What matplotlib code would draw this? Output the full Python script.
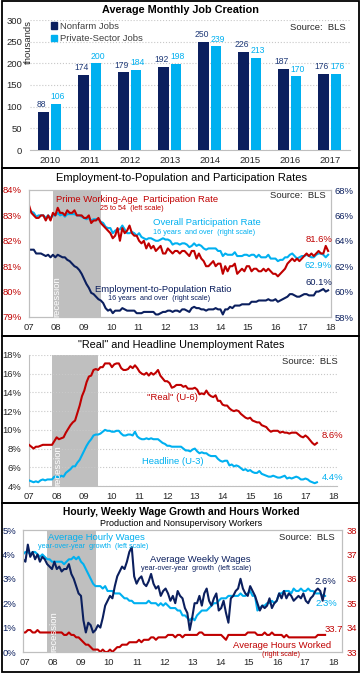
import numpy as np
import matplotlib
matplotlib.use('Agg')
import matplotlib.pyplot as plt
from matplotlib.patches import Rectangle, Patch

plt.rcParams['font.family'] = ['Liberation Sans', 'DejaVu Sans']

# ---- datos ----
years = ['2010', '2011', '2012', '2013', '2014', '2015', '2016', '2017']
nonfarm = [88, 174, 179, 192, 250, 226, 187, 176]
private = [106, 200, 184, 198, 239, 213, 170, 176]

yr_labels = ['07', '08', '09', '10', '11', '12', '13', '14', '15', '16', '17', '18']

# mensual, ene-2007 a jun-2017
prime_lfpr = [83.4, 83.1, 83.0, 82.9, 82.9, 83.0, 83.0, 82.8, 83.0, 82.8, 83.1, 83.0,
              83.3, 83.1, 83.1, 83.0, 83.2, 83.1, 83.1, 83.2, 83.0, 83.0, 83.0, 82.9,
              82.9, 83.0, 82.7, 82.8, 82.8, 82.9, 82.7, 82.6, 82.5, 82.4, 82.3, 82.1,
              82.2, 82.5, 82.0, 82.5, 82.3, 82.4, 82.6, 82.3, 82.2, 82.2, 82.0, 81.9,
              82.0, 81.7, 81.9, 81.7, 81.8, 81.6, 81.7, 81.8, 81.5, 81.5, 81.7, 81.6,
              81.5, 81.6, 81.6, 81.5, 81.6, 81.6, 81.5, 81.4, 81.6, 81.6, 81.3, 81.5,
              81.3, 81.2, 81.0, 81.0, 81.1, 81.2, 81.0, 81.1, 81.1, 80.7, 81.0, 80.8,
              81.0, 81.0, 81.1, 80.7, 80.8, 80.9, 80.8, 81.0, 81.0, 80.8, 80.9, 80.9,
              80.8, 80.8, 80.9, 80.8, 80.9, 80.8, 80.7, 80.7, 80.6, 80.7, 80.8, 80.9,
              81.1, 81.2, 81.3, 81.2, 81.3, 81.2, 81.3, 81.4, 81.5, 81.4, 81.5, 81.4,
              81.5, 81.6, 81.5, 81.5, 81.8, 81.6]
lfpr = [66.4, 66.3, 66.2, 65.9, 66.0, 66.0, 66.0, 65.8, 66.0, 65.8, 66.0, 66.0,
        66.2, 66.0, 66.1, 65.9, 66.1, 66.1, 66.1, 66.1, 66.0, 66.0, 65.9, 65.8,
        65.7, 65.8, 65.6, 65.7, 65.7, 65.7, 65.5, 65.4, 65.1, 65.0, 65.0, 64.6,
        64.8, 64.9, 64.9, 65.2, 64.9, 64.6, 64.6, 64.7, 64.6, 64.4, 64.6, 64.3,
        64.2, 64.1, 64.2, 64.2, 64.1, 64.0, 64.0, 64.1, 64.2, 64.1, 64.1, 64.0,
        63.7, 63.8, 63.8, 63.7, 63.8, 63.8, 63.7, 63.5, 63.6, 63.8, 63.6, 63.7,
        63.6, 63.4, 63.3, 63.4, 63.4, 63.4, 63.4, 63.2, 63.2, 62.8, 63.0, 62.9,
        62.9, 62.9, 63.1, 62.8, 62.8, 62.8, 62.9, 62.9, 62.8, 62.9, 62.9, 62.7,
        62.9, 62.7, 62.7, 62.7, 62.9, 62.6, 62.6, 62.6, 62.4, 62.5, 62.5, 62.7,
        62.7, 62.9, 63.0, 62.8, 62.6, 62.7, 62.8, 62.8, 62.9, 62.8, 62.7, 62.7,
        62.9, 63.0, 63.0, 62.9, 62.7, 62.9]
epop = [63.3, 63.3, 63.3, 63.0, 63.0, 63.0, 62.9, 62.8, 62.9, 62.7, 62.9, 62.7,
        62.9, 62.8, 62.7, 62.7, 62.5, 62.4, 62.2, 62.0, 61.9, 61.7, 61.4, 61.0,
        60.6, 60.3, 59.9, 59.8, 59.6, 59.4, 59.3, 59.1, 58.7, 58.5, 58.6, 58.3,
        58.5, 58.5, 58.5, 58.7, 58.6, 58.5, 58.5, 58.5, 58.5, 58.3, 58.3, 58.3,
        58.4, 58.4, 58.4, 58.4, 58.4, 58.2, 58.2, 58.3, 58.4, 58.4, 58.5, 58.5,
        58.4, 58.5, 58.5, 58.4, 58.6, 58.6, 58.5, 58.4, 58.7, 58.8, 58.7, 58.7,
        58.6, 58.6, 58.5, 58.6, 58.6, 58.6, 58.7, 58.6, 58.6, 58.2, 58.6, 58.6,
        58.8, 58.7, 58.9, 58.9, 58.9, 59.0, 59.0, 59.0, 59.0, 59.2, 59.2, 59.2,
        59.3, 59.3, 59.3, 59.3, 59.4, 59.3, 59.3, 59.4, 59.2, 59.3, 59.4, 59.5,
        59.6, 59.8, 59.8, 59.7, 59.6, 59.6, 59.7, 59.8, 59.8, 59.7, 59.7, 59.7,
        60.0, 60.0, 60.1, 60.2, 60.0, 60.1]
u6 = [8.4, 8.2, 8.0, 8.2, 8.2, 8.3, 8.4, 8.4, 8.4, 8.4, 8.4, 8.8,
      9.2, 9.0, 9.1, 9.2, 9.7, 10.1, 10.5, 10.8, 11.0, 11.8, 12.6, 13.6,
      14.2, 15.1, 15.7, 15.8, 16.4, 16.5, 16.4, 16.7, 16.7, 17.1, 17.1, 17.1,
      16.7, 17.0, 17.1, 17.1, 16.6, 16.4, 16.4, 16.5, 16.8, 16.6, 16.9, 16.6,
      16.2, 16.0, 15.9, 16.1, 15.8, 16.1, 15.9, 16.1, 16.4, 15.8, 15.5, 15.2,
      15.2, 15.0, 14.5, 14.6, 14.8, 14.8, 14.8, 14.6, 14.7, 14.4, 14.4, 14.4,
      14.5, 14.3, 13.8, 13.9, 13.8, 14.2, 13.8, 13.6, 13.5, 13.7, 13.1, 13.1,
      12.7, 12.6, 12.6, 12.3, 12.1, 12.0, 12.1, 12.0, 11.7, 11.5, 11.3, 11.2,
      11.3, 11.0, 10.9, 10.8, 10.8, 10.5, 10.4, 10.3, 10.0, 9.8, 9.9, 9.9,
      9.9, 9.7, 9.8, 9.7, 9.7, 9.6, 9.7, 9.7, 9.7, 9.5, 9.3, 9.2,
      9.4, 9.2, 8.9, 8.6, 8.4, 8.6]
u3 = [4.6, 4.5, 4.4, 4.5, 4.4, 4.6, 4.7, 4.6, 4.7, 4.7, 4.7, 5.0,
      5.0, 4.9, 5.1, 5.0, 5.4, 5.6, 5.8, 6.1, 6.1, 6.5, 6.8, 7.3,
      7.8, 8.3, 8.7, 9.0, 9.4, 9.5, 9.5, 9.6, 9.8, 10.0, 9.9, 9.9,
      9.8, 9.8, 9.9, 9.9, 9.6, 9.4, 9.4, 9.5, 9.5, 9.4, 9.8, 9.3,
      9.1, 9.0, 9.0, 9.1, 9.0, 9.1, 9.0, 9.0, 9.0, 8.8, 8.6, 8.5,
      8.3, 8.3, 8.2, 8.2, 8.2, 8.2, 8.2, 8.0, 7.8, 7.8, 7.7, 7.9,
      8.0, 7.7, 7.5, 7.6, 7.5, 7.5, 7.3, 7.2, 7.2, 7.2, 6.9, 6.7,
      6.6, 6.7, 6.7, 6.2, 6.3, 6.1, 6.2, 6.1, 5.9, 5.7, 5.8, 5.6,
      5.7, 5.5, 5.4, 5.4, 5.6, 5.3, 5.2, 5.1, 5.0, 5.0, 5.1, 5.0,
      4.9, 4.9, 5.0, 5.1, 4.8, 4.9, 4.8, 4.9, 5.0, 4.9, 4.7, 4.7,
      4.8, 4.7, 4.5, 4.4, 4.3, 4.4]
hourly = [4.0, 4.1, 4.1, 4.0, 4.1, 4.1, 4.0, 3.9, 4.0, 3.9, 3.8, 3.8,
          3.7, 3.7, 3.7, 3.7, 3.7, 3.6, 3.7, 3.8, 3.8, 3.9, 3.8, 3.9,
          3.7, 3.6, 3.4, 3.2, 3.0, 2.8, 2.7, 2.7, 2.7, 2.6, 2.7, 2.5,
          2.5, 2.5, 2.4, 2.4, 2.4, 2.3, 2.2, 2.2, 2.1, 2.1, 2.0, 2.0,
          2.0, 2.0, 2.0, 2.0, 2.1, 2.0, 2.0, 2.0, 1.9, 2.0, 1.9, 2.0,
          1.9, 1.8, 1.8, 1.8, 1.7, 1.7, 1.5, 1.5, 1.4, 1.3, 1.4, 1.3,
          1.5, 1.6, 1.7, 1.7, 1.7, 1.8, 1.9, 2.0, 2.0, 2.1, 2.2, 2.2,
          2.2, 2.3, 2.3, 2.3, 2.3, 2.3, 2.4, 2.3, 2.3, 2.4, 2.5, 2.3,
          2.3, 1.7, 1.8, 1.9, 1.9, 2.0, 2.0, 2.1, 2.0, 2.1, 2.4, 2.4,
          2.5, 2.5, 2.5, 2.4, 2.6, 2.5, 2.5, 2.6, 2.5, 2.5, 2.6, 2.5,
          2.5, 2.4, 2.4, 2.4, 2.3, 2.3]
weekly = [3.8, 3.7, 4.4, 3.9, 4.1, 3.8, 4.0, 3.7, 3.9, 3.8, 3.6, 3.5,
          3.4, 3.7, 3.4, 3.5, 3.3, 3.4, 3.4, 3.6, 3.2, 3.0, 2.7, 2.4,
          2.3, 1.3, 0.8, 1.2, 1.1, 0.8, 0.9, 1.1, 1.0, 1.4, 1.9, 2.1,
          2.3, 2.2, 2.7, 3.1, 3.3, 3.5, 3.4, 3.7, 4.1, 4.3, 3.1, 2.8,
          3.0, 3.1, 2.8, 2.7, 2.9, 3.2, 2.8, 2.6, 2.7, 2.3, 2.5, 2.6,
          2.4, 2.1, 2.3, 2.0, 2.5, 2.3, 2.2, 1.8, 1.6, 0.9, 1.4, 2.0,
          2.0, 2.3, 1.9, 2.4, 2.6, 2.1, 1.9, 2.2, 2.4, 1.7, 1.8, 2.1,
          1.6, 1.2, 2.2, 2.3, 2.5, 2.6, 3.0, 2.6, 2.4, 2.3, 2.7, 2.5,
          2.3, 2.0, 1.7, 1.9, 1.8, 1.9, 2.2, 1.8, 2.0, 2.1, 2.4, 2.2,
          2.5, 2.2, 2.4, 2.3, 2.1, 2.2, 2.3, 2.2, 2.4, 2.1, 2.0, 2.2,
          2.3, 2.5, 2.6, 2.5, 2.1, 2.6]
hours = [33.8, 33.8, 33.9, 33.9, 33.8, 33.8, 33.9, 33.8, 33.8, 33.8, 33.8, 33.8,
         33.8, 33.8, 33.8, 33.8, 33.8, 33.7, 33.7, 33.8, 33.7, 33.7, 33.6, 33.6,
         33.5, 33.4, 33.3, 33.3, 33.2, 33.1, 33.1, 33.1, 33.0, 33.1, 33.0, 33.0,
         33.1, 33.0, 33.1, 33.2, 33.2, 33.3, 33.3, 33.3, 33.4, 33.4, 33.4, 33.4,
         33.5, 33.4, 33.5, 33.5, 33.5, 33.6, 33.6, 33.5, 33.6, 33.6, 33.6, 33.6,
         33.7, 33.7, 33.7, 33.6, 33.7, 33.7, 33.6, 33.7, 33.7, 33.7, 33.7, 33.7,
         33.7, 33.8, 33.8, 33.7, 33.7, 33.7, 33.7, 33.7, 33.7, 33.7, 33.7, 33.6,
         33.5, 33.7, 33.7, 33.7, 33.7, 33.7, 33.7, 33.7, 33.7, 33.8, 33.8, 33.8,
         33.8, 33.7, 33.7, 33.7, 33.8, 33.7, 33.7, 33.8, 33.7, 33.7, 33.7, 33.7,
         33.6, 33.7, 33.6, 33.6, 33.6, 33.6, 33.6, 33.6, 33.6, 33.6, 33.6, 33.6,
         33.6, 33.6, 33.7, 33.7, 33.7, 33.7]

# recesion: dic-2007 a jun-2009 (indice de mes)
rec_start, rec_end = 10, 30

# ---- estilo ----
W, H = 361, 673
NAVY = '#0B1F5E'
BLUE = '#00B0F0'
RED = '#C00000'
SPINE = '#BFBFBF'
SHADE = '#BFBFBF'
TXT = '#262626'

fig = plt.figure(figsize=(W / 100, H / 100), dpi=100)


def box(x0, y0, x1, y1):
    return [x0 / W, 1 - y1 / H, (x1 - x0) / W, (y1 - y0) / H]


def put(x, y, s, color=TXT, size=6.8, ha='left', va='center', **kw):
    fig.text(x / W, 1 - y / H, s, color=color, fontsize=size, ha=ha, va=va, **kw)


def frame(y0, y1):
    fig.add_artist(Rectangle((1.5 / W, 1 - y1 / H), 357 / W, (y1 - y0) / H,
                             transform=fig.transFigure, fill=False, ec='black', lw=1.3))


def style(ax, sides=('left', 'right', 'top', 'bottom')):
    for s in ax.spines:
        ax.spines[s].set_visible(s in sides)
        ax.spines[s].set_color(SPINE)
        ax.spines[s].set_linewidth(0.8)
    ax.tick_params(length=0, labelsize=6.8, colors=TXT)


t = np.arange(len(u3))

# ---- Panel 1: barras ----
frame(1, 168)
put(180.5, 10, 'Average Monthly Job Creation', size=7.8, ha='center', weight='bold', color='black')
ax1 = fig.add_axes(box(30, 20, 350, 150))
x = np.arange(len(years))
ax1.bar(x - 0.165, nonfarm, 0.26, color=NAVY, zorder=3)
ax1.bar(x + 0.155, private, 0.26, color=BLUE, zorder=3)
for xi, v in zip(x, nonfarm):
    ax1.annotate(str(v), (xi - 0.165, v), xytext=(-1.2, 2), textcoords='offset points',
                 ha='center', va='bottom', fontsize=6.2, color='#1F3A78')
for xi, v in zip(x, private):
    ax1.annotate(str(v), (xi + 0.155, v), xytext=(1.2, 2), textcoords='offset points',
                 ha='center', va='bottom', fontsize=6.2, color=BLUE)
ax1.set_xlim(-0.5, 7.5)
ax1.set_ylim(0, 300)
ax1.set_yticks(range(0, 301, 50))
ax1.set_xticks(x)
ax1.set_xticklabels(years)
style(ax1, sides=('bottom',))
ax1.tick_params(axis='y', pad=5.5)
ax1.tick_params(axis='x', pad=4)
ax1.yaxis.grid(True, ls=':', color='#C8C8C8', lw=0.8, zorder=0)
ax1.set_axisbelow(True)
put(28, 20, 'thousands', rotation=90, ha='center', va='top', size=6.8)
ax1.legend([Patch(color=NAVY), Patch(color=BLUE)], ['Nonfarm Jobs', 'Private-Sector Jobs'],
           loc='upper left', bbox_to_anchor=(0.04, 1.05), frameon=False, fontsize=6.8,
           handlelength=0.6, handleheight=0.7, handletextpad=0.35, labelspacing=0.35,
           labelcolor='#404040')
put(346, 27, 'Source:  BLS', ha='right')

# ---- Panel 2: participacion ----
frame(168, 336)
put(181, 178, 'Employment-to-Population and Participation Rates', size=8.0, ha='center', color='black')
ax2 = fig.add_axes(box(29, 190, 331, 317))
ax2r = ax2.twinx()
ax2.set_zorder(ax2r.get_zorder() + 1)
ax2.patch.set_visible(False)
ax2r.axvspan(rec_start, rec_end, color=SHADE, lw=0, zorder=0)
ax2r.plot(t, lfpr, color=BLUE, lw=1.5)
ax2r.plot(t, epop, color=NAVY, lw=1.5)
ax2.plot(t, prime_lfpr, color=RED, lw=1.5)
ax2.set_xlim(0, 126.2)
ax2.set_ylim(79, 84)
ax2r.set_ylim(58, 68)
ax2.set_xticks(np.linspace(0, 125.8, 12))
ax2.set_xticklabels(yr_labels)
ax2.set_yticks(range(79, 85))
ax2.set_yticklabels([f'{v}%' for v in range(79, 85)])
ax2r.set_yticks(range(58, 69, 2))
ax2r.set_yticklabels([f'{v}%' for v in range(58, 69, 2)])
style(ax2)
style(ax2r)
ax2.tick_params(axis='y', colors=RED, pad=5.5)
ax2r.tick_params(axis='y', colors=NAVY, pad=2.5)
ax2.tick_params(axis='x', pad=4)
put(57, 297, 'recession', rotation=90, ha='center', color='white')
put(56, 199, 'Prime Working-Age  Participation Rate', color=RED)
put(100, 209, '25 to 54  (left scale)', color=RED, size=5.2)
put(326, 195, 'Source:  BLS', ha='right')
put(153, 223, 'Overall Participation Rate', color=BLUE)
put(153, 232, '16 years  and over  (right scale)', color=BLUE, size=5.2)
put(332, 239, '81.6%', color=RED, ha='right')
put(332, 266, '62.9%', color=BLUE, ha='right')
put(332, 282, '60.1%', color=NAVY, ha='right')
put(95, 289, 'Employment-to-Population Ratio', color=NAVY)
put(108, 298, '16 years  and over  (right scale)', color=NAVY, size=5.2)

# ---- Panel 3: desempleo ----
frame(336, 503)
put(181, 345, '"Real" and Headline Unemployment Rates', size=7.8, ha='center', color='black')
ax3 = fig.add_axes(box(29, 355, 337, 486))
ax3.axvspan(rec_start, rec_end, color=SHADE, lw=0, zorder=0)
ax3.plot(t, u6, color=RED, lw=1.5, zorder=3)
ax3.plot(t, u3, color=BLUE, lw=1.5, zorder=3)
ax3.set_xlim(0, 133.7)
ax3.set_ylim(4, 18)
ax3.set_yticks(range(4, 19, 2))
ax3.set_yticklabels([f'{v}%' for v in range(4, 19, 2)])
ax3.set_xticks(np.arange(0, 133, 12))
ax3.set_xticklabels(yr_labels)
style(ax3, sides=('left', 'bottom'))
ax3.tick_params(axis='y', pad=5.5)
ax3.tick_params(axis='x', pad=4)
ax3.yaxis.grid(True, ls=':', color='#C8C8C8', lw=0.8, zorder=1)
put(58, 466, 'recession', rotation=90, ha='center', color='white')
put(338, 361, 'Source:  BLS', ha='right')
put(147, 397, '"Real" (U-6)', color=RED)
put(142, 461, 'Headline (U-3)', color=BLUE)
put(343, 436, '8.6%', color=RED, ha='right')
put(343, 477, '4.4%', color=BLUE, ha='right')

# ---- Panel 4: salarios y horas ----
frame(503, 672)
put(181, 512, 'Hourly, Weekly Wage Growth and Hours Worked', size=7.4, ha='center',
    weight='bold', color='black')
put(181, 523, 'Production and Nonsupervisory Workers', size=6.5, ha='center', color='black')
ax4 = fig.add_axes(box(23, 530, 342, 652))
ax4r = ax4.twinx()
ax4.axvspan(rec_start, rec_end, color=SHADE, lw=0, zorder=0)
ax4.plot(t, hourly, color=BLUE, lw=1.5, zorder=3)
ax4.plot(t, weekly, color=NAVY, lw=1.5, zorder=3)
ax4r.plot(t, hours, color=RED, lw=1.5)
ax4.set_xlim(0, 132)
ax4.set_ylim(0, 5)
ax4r.set_ylim(33, 38)
ax4.set_yticks(range(0, 6))
ax4.set_yticklabels([f'{v}%' for v in range(0, 6)])
ax4r.set_yticks(range(33, 39))
ax4.set_xticks(np.linspace(0.8, 128.3, 12))
ax4.set_xticklabels(yr_labels)
style(ax4)
style(ax4r)
ax4.tick_params(axis='y', colors=NAVY, pad=5)
ax4r.tick_params(axis='y', colors=RED, pad=3.5)
ax4.tick_params(axis='x', pad=4)
put(54, 632, 'recession', rotation=90, ha='center', color='white')
put(48, 537, 'Average Hourly Wages', color=BLUE)
put(38, 547, 'year-over-year  growth  (left scale)', color=BLUE, size=5.2)
put(335, 537, 'Source:  BLS', ha='right')
put(150, 559, 'Average Weekly Wages', color=NAVY)
put(141, 569, 'year-over-year  growth  (left scale)', color=NAVY, size=5.2)
put(336, 582, '2.6%', color=NAVY, ha='right')
put(337, 604, '2.3%', color=BLUE, ha='right')
put(343, 630, '33.7', color=RED, ha='right')
put(233, 645, 'Average Hours Worked', color=RED)
put(262, 655, '(right scale)', color=RED, size=5.2)

fig.savefig('out.png', dpi=100)
